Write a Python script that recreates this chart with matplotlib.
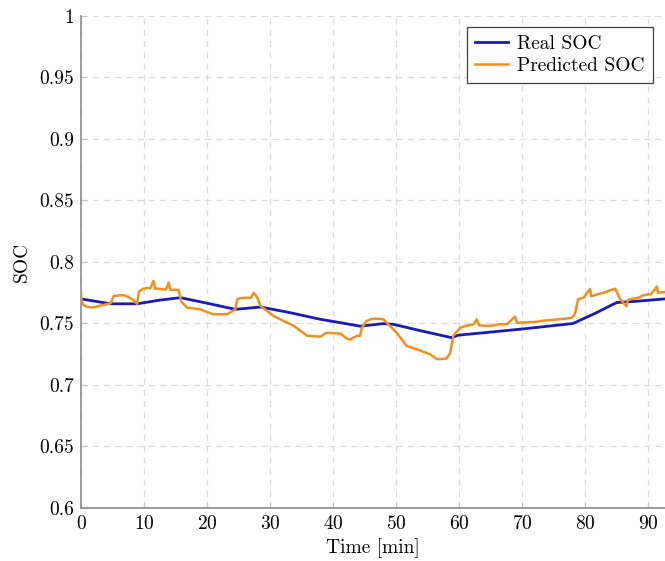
import numpy as np
import matplotlib.pyplot as plt

# real SOC (reference trajectory)
t_real = [0, 4.7, 8.9, 12.5, 15.8, 20, 24.5, 28.5, 33, 38, 41.1, 44.3, 48, 49.6,
          54, 58.8, 59.9, 65, 70, 78.1, 81.5, 85, 88, 92.7]
soc_real = [0.770, 0.766, 0.766, 0.769, 0.771, 0.7665, 0.7615, 0.7634, 0.759, 0.7534,
            0.7507, 0.7478, 0.7499, 0.7493, 0.744, 0.7385, 0.7405, 0.743, 0.7455, 0.750,
            0.758, 0.767, 0.768, 0.770]

# predicted SOC (estimator output)
t_pred = [0, 0.1, 0.4, 1.0, 2.0, 3.0, 4.7, 5.2, 6.0, 6.8, 7.5, 8.1, 8.9,
          9.2, 9.8, 10.5, 11.0, 11.5, 11.8, 12.1, 12.8, 13.5, 13.9, 14.2, 14.8, 15.5,
          15.9, 16.8, 18.9, 21.0, 23.2, 24.5,
          24.8, 25.2, 26.3, 27.0, 27.4, 28.0, 28.5,
          30.6, 33.8, 35.9, 38.0, 39.0, 41.2, 42.2, 42.7, 43.8, 44.3,
          44.6, 45.3, 46.0, 46.9, 48.0, 48.8,
          50.1, 51.7, 53.3, 55.4, 56.5, 58.0, 58.6, 59.1, 60.2,
          61.5, 62.3, 62.8, 63.2, 64.9, 66.5, 67.6, 68.9, 69.2, 71.0, 72.5, 72.9, 75.0,
          77.0, 77.9, 78.4, 78.9, 79.8, 80.8, 81.0, 81.9, 83.0, 84.0, 84.8,
          85.6, 86.6, 86.8, 87.1, 88.5, 89.3, 90.5, 91.4, 91.6, 92.7]
soc_pred = [0.775, 0.768, 0.765, 0.7635, 0.763, 0.7645, 0.7664, 0.7724, 0.7728, 0.773, 0.7715, 0.7697, 0.766,
            0.776, 0.778, 0.779, 0.7785, 0.7846, 0.778, 0.7785, 0.7778, 0.7776, 0.7832, 0.7772, 0.7775, 0.7772,
            0.768, 0.763, 0.7615, 0.7575, 0.7575, 0.7615,
            0.7696, 0.7705, 0.771, 0.7708, 0.775, 0.771, 0.7642,
            0.756, 0.748, 0.740, 0.7393, 0.7425, 0.7417, 0.7377, 0.737, 0.740, 0.740,
            0.7466, 0.752, 0.7535, 0.754, 0.7534, 0.7493,
            0.7425, 0.7317, 0.729, 0.725, 0.721, 0.7214, 0.726, 0.740, 0.7466,
            0.7485, 0.7493, 0.7534, 0.7485, 0.748, 0.7495, 0.7493, 0.7556, 0.7505, 0.751, 0.7515, 0.752, 0.753,
            0.754, 0.7547, 0.7575, 0.7696, 0.771, 0.778, 0.772, 0.7737, 0.775, 0.777, 0.7783,
            0.7696, 0.764, 0.769, 0.7696, 0.771, 0.773, 0.774, 0.780, 0.775, 0.7756]

plt.rcParams['font.family'] = 'cmr10'
plt.rcParams['mathtext.fontset'] = 'cm'
plt.rcParams['axes.formatter.use_mathtext'] = True

fig = plt.figure(figsize=(6.65, 5.61), dpi=100)
ax = fig.add_axes([0.1218, 0.0945, 0.8782, 0.877])

ax.plot(t_real, soc_real, color='#1a1ab8', linewidth=2.0, label='Real SOC', zorder=3)
ax.plot(t_pred, soc_pred, color='#f0901e', linewidth=1.8, label='Predicted SOC', zorder=4)

ax.set_xlim(0, 92.7)
ax.set_ylim(0.6, 1.0)
ax.set_xticks(np.arange(0, 91, 10))
ax.set_yticks(np.arange(0.6, 1.001, 0.05))
ax.set_yticklabels(['0.6', '0.65', '0.7', '0.75', '0.8', '0.85', '0.9', '0.95', '1'])

ax.grid(True, color='#dcdcdc', linestyle=(0, (5, 4)), linewidth=0.9)
for s in ['top', 'right']:
    ax.spines[s].set_visible(False)
for s in ['left', 'bottom']:
    ax.spines[s].set_color('#8c8c8c')
    ax.spines[s].set_linewidth(1.2)
ax.tick_params(direction='in', length=4, color='#c0c0c0', labelsize=14, pad=5)

ax.set_xlabel('Time [min]', fontsize=14, labelpad=4)
ax.set_ylabel('SOC', fontsize=14, labelpad=6)

leg = ax.legend(loc='upper right', bbox_to_anchor=(0.979, 0.978), borderaxespad=0,
                fontsize=14, fancybox=False, edgecolor='#404040', framealpha=1,
                handlelength=1.7, borderpad=0.4, labelspacing=0.25, handletextpad=0.5)
leg.get_frame().set_linewidth(0.9)

fig.savefig('out.png', dpi=100)
